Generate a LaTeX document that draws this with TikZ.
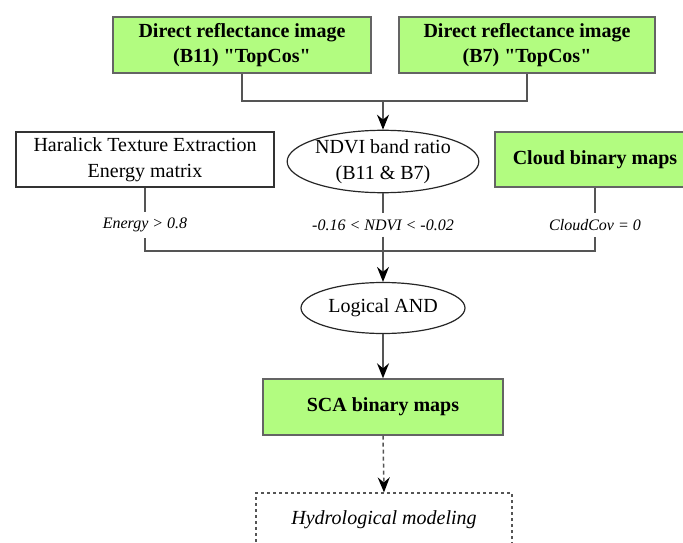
\documentclass[tikz,border=0pt]{standalone}
\usepackage{fontspec}
\setmainfont{Liberation Serif}[Ligatures=TeXOff]
\usetikzlibrary{shapes.geometric,arrows.meta}
\definecolor{boxgreen}{RGB}{178,252,128}
\definecolor{edgegray}{RGB}{100,100,100}
\definecolor{linegray}{RGB}{85,85,85}
\tikzset{
  gbox/.style={draw=edgegray, line width=1.4pt, fill=boxgreen, align=center, inner sep=0pt,
    font=\fontsize{20}{25}\selectfont\bfseries},
  wbox/.style={draw=black!80, line width=1.4pt, fill=white, align=center, inner sep=0pt,
    font=\fontsize{20}{26}\selectfont},
  oval/.style={ellipse, draw=black!85, line width=1.2pt, align=center, inner sep=0pt,
    font=\fontsize{20}{26}\selectfont},
  cond/.style={inner xsep=2pt, inner ysep=6pt, font=\fontsize{16}{18}\selectfont\itshape},
  conn/.style={draw=linegray, line width=1.5pt},
  arr/.style={conn, -{Stealth[color=black, length=15pt, width=12pt, inset=5pt]}},
}
\begin{document}
\begin{tikzpicture}[x=1pt,y=-1pt]
\useasboundingbox (0,0) rectangle (683,543);
\clip (0,0) rectangle (683,543);
% top row
\node[gbox, minimum width=258, minimum height=56] (b11) at (242,45) {Direct reflectance image\\(B11) "TopCos"};
\node[gbox, minimum width=256, minimum height=56] (b7) at (527,45) {Direct reflectance image\\(B7) "TopCos"};
% second row
\node[wbox, minimum width=258, minimum height=55] (har) at (145,159.5) {Haralick Texture Extraction\\Energy matrix};
\node[oval, minimum width=180, minimum height=59] (ndvi) at (383,161.5) {NDVI band ratio\\(B11 \& B7)};
\node[gbox, minimum width=200, minimum height=55] (cloud) at (595,159.5) {Cloud binary maps};
% conditions
\node[cond] (lblE) at (145,225) {Energy > 0.8};
\node[cond] (lblN) at (383,225) {-0.16 < NDVI < -0.02};
\node[cond] (lblC) at (595,225) {CloudCov = 0};
% lower part
\node[oval, minimum width=164, minimum height=51] (and) at (383,308) {Logical AND};
\node[gbox, minimum width=240, minimum height=56] (sca) at (383,407) {SCA binary maps};
\node[draw=linegray, dashed, line width=1.2pt, minimum width=256, minimum height=54, inner sep=0pt,
  font=\fontsize{20}{24}\selectfont\itshape] (hydro) at (384,520) {Hydrological modeling};
% junction points
\coordinate (jt) at (383,101);
\coordinate (jb) at (383,251);
% top connectors
\draw[conn] (b11.south) |- (jt) -| (b7.south);
\draw[arr] (jt) -- (ndvi.north);
% condition connectors
\draw[conn] (har.south) -- (lblE.north);
\draw[conn] (ndvi.south) -- (lblN.north);
\draw[conn] (cloud.south) -- (lblC.north);
\draw[conn] (lblE.south) |- (jb) -| (lblC.south);
\draw[conn] (lblN.south) -- (jb);
\draw[arr] (jb) -- (and.north);
\draw[arr] (and.south) -- (sca.north);
\draw[arr, dash pattern=on 4pt off 3pt] (sca.south) -- (hydro.north);
\end{tikzpicture}
\end{document}
